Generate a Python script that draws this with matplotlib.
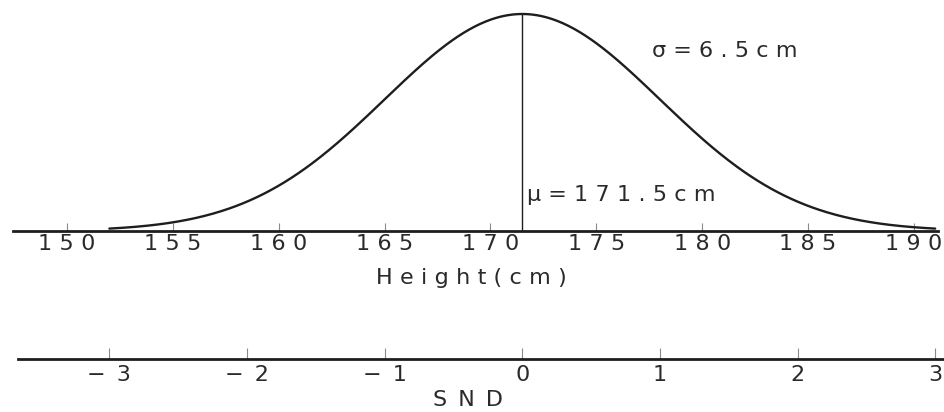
import numpy as np
import matplotlib
matplotlib.use("Agg")
import matplotlib.pyplot as plt

# ---- data ----
mu = 171.5          # mean height (cm)
sigma = 6.5         # standard deviation (cm)
height_ticks = [150, 155, 160, 165, 170, 175, 180, 185, 190]
snd_ticks = [-3, -2, -1, 0, 1, 2, 3]
mu_label = "μ = 171.5 cm"
sigma_label = "σ = 6.5 cm"
xlabel_top = "Height (cm)"
xlabel_bottom = "SND"

TS = "\u2004"  # three-per-em space for letter spacing


def spaced(s, sep=TS):
    out = sep.join(list(s))
    return out.replace(sep + " " + sep, " ")


W, H = 944, 412
fig = plt.figure(figsize=(W / 100, H / 100), dpi=100)
plt.rcParams['font.family'] = ['DejaVu Sans']

ink = "#1e1e1e"
txt = "#2a2a2a"
tickc = "#8a8a8a"
FS = 16

# pixel mapping: 150 cm -> x=67 px, 190 cm -> x=914 px
px_per_cm = (914 - 67) / 40.0
xmin = 150 - 67 / px_per_cm
xmax = 150 + (W - 67) / px_per_cm

axis_y_px = 231
ax1 = fig.add_axes([0, 1 - axis_y_px / H, 1, axis_y_px / H])
ax1.set_xlim(xmin, xmax)

peak = 1 / (sigma * np.sqrt(2 * np.pi))
peak_y_px = 14
ax1.set_ylim(0, peak * axis_y_px / (axis_y_px - peak_y_px))

x = np.linspace(mu - 3 * sigma, mu + 3 * sigma, 600)
y = np.exp(-0.5 * ((x - mu) / sigma) ** 2) / (sigma * np.sqrt(2 * np.pi))
ax1.plot(x, y, color=ink, lw=1.7, solid_capstyle='round', clip_on=False)
ax1.plot([mu, mu], [0, peak], color=ink, lw=1.0)

for s in ['top', 'right', 'left']:
    ax1.spines[s].set_visible(False)
ax1.spines['bottom'].set_color(ink)
ax1.spines['bottom'].set_linewidth(2.0)
ax1.spines['bottom'].set_bounds(xmin + 13 / px_per_cm, xmin + 938 / px_per_cm)
ax1.set_yticks([])
ax1.set_xticks(height_ticks)
ax1.set_xticklabels([spaced(str(t)) for t in height_ticks])
ax1.tick_params(axis='x', direction='in', length=6, width=0.8, color=tickc,
                labelsize=FS, labelcolor=txt, pad=2)

# labels placed in data coordinates derived from pixel layout
ax1.text(xmin + 527 / px_per_cm, peak * (axis_y_px - 201) / (axis_y_px - peak_y_px),
         spaced(mu_label), fontsize=FS, color=txt, ha='left', va='baseline')
ax1.text(xmin + 652 / px_per_cm, peak * (axis_y_px - 57) / (axis_y_px - peak_y_px),
         spaced(sigma_label), fontsize=FS, color=txt, ha='left', va='baseline')

fig.text(471 / W, 1 - 278 / H, spaced(xlabel_top),
         fontsize=FS, color=txt, ha='center', va='center')

# ---- SND axis ----
snd_y_px = 359
ax2 = fig.add_axes([0, 1 - snd_y_px / H, 1, 0.001])
zmin = (xmin - mu) / sigma
zmax = (xmax - mu) / sigma
ax2.set_xlim(zmin, zmax)
for s in ['top', 'right', 'left']:
    ax2.spines[s].set_visible(False)
ax2.spines['bottom'].set_color(ink)
ax2.spines['bottom'].set_linewidth(2.0)
ax2.spines['bottom'].set_bounds(zmin + 18 / px_per_cm / sigma, zmax)
ax2.set_yticks([])
ax2.set_xticks(snd_ticks)
ax2.set_xticklabels([("\u2212\u2002" + str(abs(t))) if t < 0 else str(t) for t in snd_ticks])
ax2.tick_params(axis='x', direction='in', length=8, width=0.8, color=tickc,
                labelsize=FS, labelcolor=txt, pad=4)
fig.text(468 / W, 1 - 400 / H, spaced(xlabel_bottom, "\u2002"),
         fontsize=FS, color=txt, ha='center', va='center')

fig.savefig("out.png", dpi=100)
